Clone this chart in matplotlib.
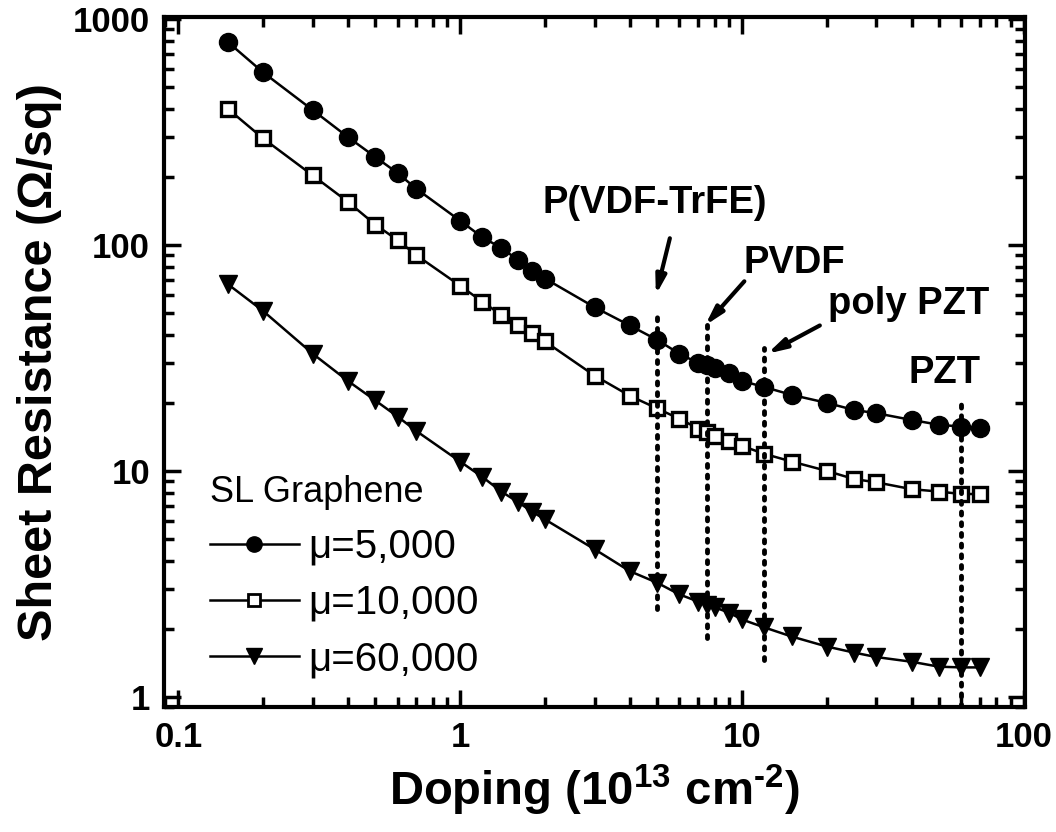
import matplotlib
matplotlib.use('Agg')
import matplotlib.pyplot as plt
from matplotlib.lines import Line2D

plt.rcParams['font.family'] = ['Liberation Sans', 'DejaVu Sans']
plt.rcParams['mathtext.fontset'] = 'custom'
plt.rcParams['mathtext.rm'] = 'Liberation Sans:bold'
plt.rcParams['mathtext.bf'] = 'Liberation Sans:bold'

# doping in 1e13 cm^-2
doping = [0.15, 0.2, 0.3, 0.4, 0.5, 0.6, 0.7, 1, 1.2, 1.4, 1.6, 1.8, 2, 3, 4, 5,
          6, 7, 7.5, 8, 9, 10, 12, 15, 20, 25, 30, 40, 50, 60, 70]

# sheet resistance (ohm/sq)
r_5000 = [790, 580, 395, 300, 245, 208, 177, 128, 108, 97, 86, 77, 71, 53, 44, 38,
          33, 30, 29.4, 28.6, 27, 25, 23.5, 21.7, 20, 18.6, 18, 16.8, 16, 15.7, 15.5]
r_10000 = [400, 296, 203, 155, 123, 105, 90, 66, 56, 49, 44, 40.6, 37.4, 26.4, 21.5, 18.9,
           17, 15.4, 14.9, 14.3, 13.6, 12.9, 11.9, 11, 10, 9.2, 8.9, 8.3, 8.1, 7.9, 7.9]
r_60000 = [67, 51, 33, 25, 20.5, 17.4, 15, 11, 9.4, 8.1, 7.3, 6.6, 6.1, 4.5, 3.6, 3.2,
           2.84, 2.64, 2.56, 2.49, 2.36, 2.2, 2.03, 1.85, 1.67, 1.57, 1.5, 1.43, 1.36, 1.35, 1.35]

# ferroelectric gate dopings and the span of their dotted marker lines
gate_x = [5, 7.5, 12, 60]
gate_top = [51, 45, 35, 20]
gate_bottom = [2.45, 1.83, 1.46, 0.9]

labels = ['P(VDF-TrFE)', 'PVDF', 'poly PZT', 'PZT']
label_pos = [(4.9, 154), (15.4, 83), (39.0, 55), (52.5, 27)]
arrow_tail = [(5.55, 107), (10.2, 69), (18.9, 44), None]
arrow_head = [(4.95, 60), (7.4, 44), (12.3, 33), None]

fig = plt.figure(figsize=(10.56, 8.32), dpi=100)
ax = fig.add_axes([0.1553, 0.150, 0.8153, 0.8296])

ax.plot(doping, r_5000, '-o', color='black', lw=1.8, ms=13, mfc='black', mec='black')
ax.plot(doping, r_10000, '-s', color='black', lw=1.8, ms=10, mfc='white', mec='black', mew=2.4)
ax.plot(doping, r_60000, '-v', color='black', lw=1.8, ms=13.5, mfc='black', mec='black')

for x, top, bot in zip(gate_x, gate_top, gate_bottom):
    ax.plot([x, x], [bot, top], color='black', lw=3.5, linestyle=(0, (0.6, 1.6)),
            dash_capstyle='round')

for text, pos, tail, head in zip(labels, label_pos, arrow_tail, arrow_head):
    ax.text(pos[0], pos[1], text, fontsize=27.5, fontweight='bold', ha='center', va='center')
    if tail is not None:
        ax.annotate('', xy=head, xytext=tail,
                    arrowprops=dict(arrowstyle='-|>,head_length=1.1,head_width=0.3',
                                    color='black', lw=3, shrinkA=0, shrinkB=0))

ax.set_xscale('log')
ax.set_yscale('log')
ax.set_xlim(0.089, 101)
ax.set_ylim(0.9, 1020)
ax.set_xticks([0.1, 1, 10, 100])
ax.set_xticklabels(['0.1', '1', '10', '100'])
ax.set_yticks([1, 10, 100, 1000])
ax.set_yticklabels(['1', '10', '100', '1000'])

for side in ax.spines.values():
    side.set_linewidth(3)
ax.tick_params(which='both', direction='in', top=True, right=True, width=2.5)
ax.tick_params(which='major', length=12, labelsize=25, pad=10)
ax.tick_params(which='minor', length=7)
for lab in ax.get_xticklabels() + ax.get_yticklabels():
    lab.set_fontweight('bold')

ax.set_xlabel('Doping (10$^{\\mathbf{13}}$ cm$^{\\mathbf{\u2010}\\mathbf{2}}$)', fontsize=34,
              fontweight='bold', labelpad=6)
ax.set_ylabel('Sheet Resistance (\u03a9/sq)', fontsize=35, fontweight='bold', labelpad=8)

handles = [
    Line2D([], [], color='black', lw=1.8, marker='o', ms=11, mfc='black'),
    Line2D([], [], color='black', lw=1.8, marker='s', ms=9, mfc='white', mew=2),
    Line2D([], [], color='black', lw=1.8, marker='v', ms=12, mfc='black'),
]
leg = ax.legend(handles, ['\u03bc=5,000', '\u03bc=10,000', '\u03bc=60,000'],
                title='SL Graphene', title_fontsize=26, fontsize=29, frameon=False,
                loc='lower left', bbox_to_anchor=(0.03, 0.013), borderpad=0,
                handlelength=2.2, handletextpad=0.25, labelspacing=0.45,
                alignment='left')
leg.get_title().set_fontweight('medium')
for t in leg.get_texts():
    t.set_fontweight('medium')

fig.savefig('out.png', dpi=100)
